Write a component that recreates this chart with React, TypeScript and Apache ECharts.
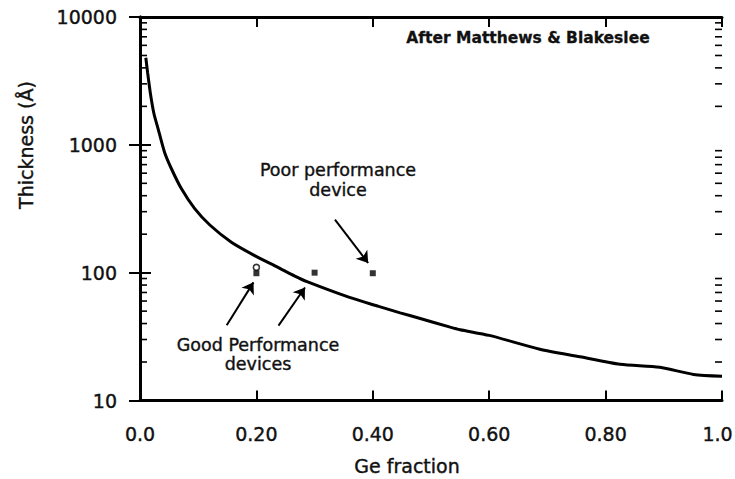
import React, { useEffect, useRef } from "react";
import * as echarts from "echarts";

// ---- data ----
const curveX = [0.010, 0.013, 0.018, 0.024, 0.031, 0.042, 0.054, 0.071, 0.094, 0.12, 0.157, 0.197, 0.237, 0.266, 0.287, 0.36, 0.41, 0.447, 0.48, 0.533, 0.55, 0.60, 0.687, 0.756, 0.825, 0.893, 0.951, 1.0];
const curveY = [4800, 3700, 2500, 1750, 1340, 880, 650, 455, 317, 236, 173, 136, 110, 94, 85, 64, 54.5, 48.5, 44, 37.5, 35.8, 32.3, 25.2, 22, 19.2, 18.2, 16, 15.5];

const squareX = [0.20, 0.30, 0.40];
const squareY = [99, 100, 99];
const circleX = [0.20];
const circleY = [110];

// arrows: [x1, y1, x2, y2] in data units
const arrowPoor = [0.335, 260, 0.392, 119];
const arrowGood1 = [0.149, 38.8, 0.195, 84];
const arrowGood2 = [0.238, 38.5, 0.2835, 76.6];

const xTickLabels = ["0.0", "0.20", "0.40", "0.60", "0.80", "1.0"];
const yTickLabels = ["10", "100", "1000", "10000"];
const minorTickValues = [20, 30, 40, 50, 60, 70, 80, 90, 200, 300, 400, 500, 600, 700, 800, 900, 2000, 3000, 4000, 5000, 6000, 7000, 8000, 9000];

const FONT = "DejaVu Sans";
const INK = "#111";

export default function App() {
  const ref = useRef<HTMLDivElement>(null);
  useEffect(() => {
    if (!ref.current) return;
    const chart = echarts.init(ref.current, null, { renderer: "svg" });
    const axisLine = { show: true, lineStyle: { color: "#000", width: 3 } };
    const xFmt = (v: number) => {
      const i = Math.round(v / 0.2);
      const t = xTickLabels[i] ?? "";
      return i === xTickLabels.length - 1 ? "{last|" + t + "}" : t;
    };
    const yFmt = (v: number) => yTickLabels[Math.round(Math.log10(v)) - 1] ?? "";
    const arrowData = [arrowPoor, arrowGood1, arrowGood2].map((a) => [
      { coord: [a[0], a[1]] },
      { coord: [a[2], a[3]] },
    ]);
    const txt = (x: number, y: number, text: string, size: number, extra: any = {}) => ({
      type: "text",
      x,
      y,
      ...extra,
      style: {
        text,
        fontFamily: FONT,
        fontSize: size,
        fill: INK,
        stroke: INK,
        lineWidth: 0.4,
        align: "center",
        verticalAlign: "middle",
        ...(extra.style || {}),
      },
    });
    const option: any = {
      animation: false,
      backgroundColor: "#fff",
      grid: { left: 140, right: 13, top: 17, bottom: 78.5, containLabel: false, outerBoundsMode: "none" },
      xAxis: [
        {
          type: "value", min: 0, max: 1, interval: 0.2, position: "bottom",
          axisLine, splitLine: { show: false },
          axisTick: { show: true, inside: true, length: 10, lineStyle: { color: "#000", width: 2 } },
          axisLabel: {
            formatter: xFmt, margin: 24, fontFamily: FONT, fontSize: 19, color: INK,
            textBorderColor: INK, textBorderWidth: 0.4,
            rich: { last: { fontFamily: FONT, fontSize: 19, color: INK, textBorderColor: INK, textBorderWidth: 0.4, padding: [0, 9, 0, 0] } },
          },
        },
        {
          type: "value", min: 0, max: 1, interval: 0.2, position: "top",
          axisLine, splitLine: { show: false },
          axisTick: { show: true, inside: true, length: 10, lineStyle: { color: "#000", width: 2 } },
          axisLabel: { show: false },
        },
      ],
      yAxis: [
        {
          type: "log", logBase: 10, min: 10, max: 10000, position: "left",
          axisLine, splitLine: { show: false },
          axisTick: { show: true, inside: true, length: 11, lineStyle: { color: "#000", width: 2 } },
          axisLabel: { formatter: yFmt, margin: 23, fontFamily: FONT, fontSize: 19, color: INK, textBorderColor: INK, textBorderWidth: 0.4 },
        },
        {
          type: "log", logBase: 10, min: 10, max: 10000, position: "right",
          axisLine, splitLine: { show: false },
          axisTick: { show: true, inside: true, length: 11, lineStyle: { color: "#000", width: 2 } },
          axisLabel: { show: false },
        },
      ],
      series: [
        {
          type: "line",
          data: curveX.map((x, i) => [x, curveY[i]]),
          showSymbol: false,
          smooth: 0.25,
          lineStyle: { color: "#000", width: 3 },
          silent: true,
          markLine: {
            silent: true,
            symbol: ["none", "arrow"],
            symbolSize: 11,
            label: { show: false },
            lineStyle: { color: "#000", width: 2, type: "solid" },
            emphasis: { disabled: true },
            data: arrowData,
          },
        },
        {
          type: "scatter",
          data: squareX.map((x, i) => [x, squareY[i]]),
          symbol: "rect",
          symbolSize: 6,
          itemStyle: { color: "#000" },
          silent: true,
        },
        {
          type: "scatter",
          data: circleX.map((x, i) => [x, circleY[i]]),
          symbol: "circle",
          symbolSize: 6,
          itemStyle: { color: "#fff", borderColor: "#000", borderWidth: 1.6 },
          silent: true,
        },
        {
          type: "custom",
          silent: true,
          clip: false,
          data: minorTickValues.map((v) => [0, v]),
          renderItem: (params: any, api: any) => {
            const v = api.value(1);
            const l = api.coord([0, v]);
            const r = api.coord([1, v]);
            const st = { stroke: "#000", lineWidth: 1.6 };
            return {
              type: "group",
              children: [
                { type: "line", shape: { x1: l[0], y1: l[1], x2: l[0] + 7, y2: l[1] }, style: st },
                { type: "line", shape: { x1: r[0] - 7, y1: r[1], x2: r[0], y2: r[1] }, style: st },
              ],
            };
          },
        },
      ],
      graphic: [
        txt(528, 38, "After Matthews & Blakeslee", 15.5, { style: { fontWeight: "bold", lineWidth: 0.3 } }),
        txt(338, 170, "Poor performance", 17.5),
        txt(338, 190, "device", 17.5),
        txt(258, 345, "Good Performance", 17.5),
        txt(258, 364, "devices", 17.5),
        txt(26, 145, "Thickness (Å)", 19, { rotation: Math.PI / 2 }),
        txt(407, 466, "Ge fraction", 19),
      ],
    };
    chart.setOption(option);
    return () => chart.dispose();
  }, []);
  return (
    <div
      ref={ref}
      style={{ position: "fixed", left: 0, top: 0, width: 735, height: 479, background: "#fff" }}
    />
  );
}
